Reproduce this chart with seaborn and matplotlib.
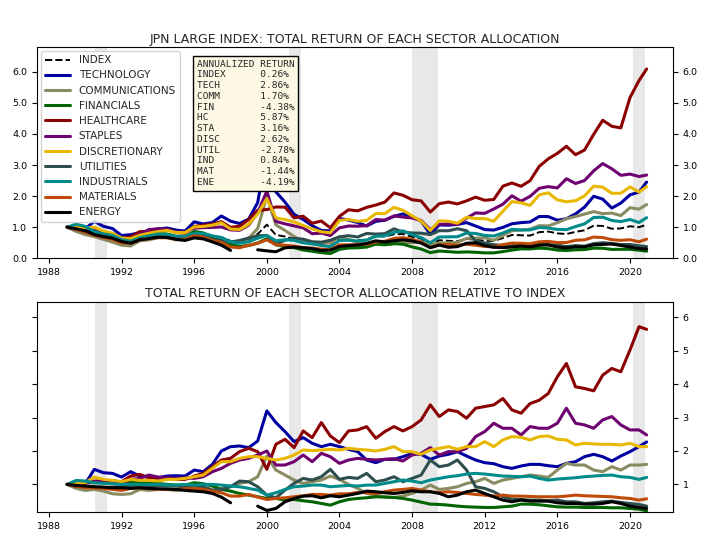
import numpy as np
import pandas as pd
import matplotlib
matplotlib.use("Agg")
import matplotlib.pyplot as plt
import matplotlib.dates as mdates
import seaborn as sns

sns.set_style("ticks")
plt.rcParams.update({'font.family': ['DejaVu Sans'], 'axes.edgecolor': 'black',
                     'xtick.color': 'black', 'ytick.color': 'black'})

# semi-annual samples
dates = list(pd.date_range("1989-01-01", "2020-07-01", freq="6MS")) + [pd.Timestamp("2020-12-01")]

# total return of the index (top panel, dashed)
index_tr = [1.00, 0.98, 0.93, 0.82, 0.76, 0.72, 0.60, 0.55, 0.66, 0.72,
            0.78, 0.78, 0.72, 0.70, 0.82, 0.80, 0.72, 0.68, 0.56, 0.52,
            0.60, 0.78, 1.08, 0.75, 0.70, 0.62, 0.52, 0.47, 0.42, 0.40,
            0.60, 0.60, 0.58, 0.60, 0.72, 0.70, 0.77, 0.78, 0.69, 0.63,
            0.44, 0.58, 0.56, 0.55, 0.62, 0.60, 0.56, 0.56, 0.65, 0.75,
            0.74, 0.73, 0.84, 0.86, 0.80, 0.78, 0.85, 0.90, 1.05, 1.04,
            0.95, 0.96, 1.03, 1.00, 1.08]

# sector returns relative to index (bottom panel)
tech_rel = [1.00, 0.97, 1.02, 1.45, 1.35, 1.33, 1.22, 1.38, 1.25, 1.22,
            1.20, 1.25, 1.26, 1.25, 1.43, 1.38, 1.60, 2.00, 2.13, 2.15,
            2.10, 2.30, 3.20, 2.85, 2.58, 2.28, 2.40, 2.23, 2.13, 2.20,
            2.13, 2.05, 1.98, 1.73, 1.65, 1.75, 1.75, 1.83, 1.93, 1.90,
            1.75, 1.85, 1.90, 1.98, 1.85, 1.73, 1.65, 1.62, 1.53, 1.48,
            1.55, 1.60, 1.60, 1.56, 1.53, 1.63, 1.68, 1.83, 1.90, 1.83,
            1.70, 1.85, 1.98, 2.13, 2.27]
comm_rel = [1.00, 0.88, 0.82, 0.85, 0.80, 0.72, 0.70, 0.72, 0.85, 0.82,
            0.85, 0.85, 0.82, 0.85, 0.85, 0.85, 0.82, 0.88, 0.95, 1.03,
            1.08, 1.23, 1.85, 1.43, 1.28, 1.13, 1.03, 1.08, 1.13, 1.25,
            1.15, 1.00, 0.88, 0.73, 0.68, 0.63, 0.61, 0.65, 0.73, 0.83,
            0.98, 0.85, 0.88, 0.93, 1.03, 1.08, 1.18, 1.03, 1.13, 1.18,
            1.23, 1.28, 1.25, 1.21, 1.43, 1.63, 1.58, 1.58, 1.43, 1.38,
            1.53, 1.43, 1.58, 1.58, 1.60]
fin_rel = [1.00, 1.02, 1.05, 1.05, 1.10, 1.10, 1.08, 1.08, 1.05, 1.05,
           1.03, 1.00, 0.98, 0.98, 1.05, 1.02, 0.95, 0.85, 0.80, 0.73,
           0.68, 0.63, 0.58, 0.58, 0.53, 0.55, 0.51, 0.48, 0.43, 0.38,
           0.48, 0.55, 0.58, 0.60, 0.63, 0.62, 0.61, 0.58, 0.53, 0.47,
           0.41, 0.40, 0.38, 0.35, 0.33, 0.32, 0.31, 0.31, 0.33, 0.35,
           0.41, 0.41, 0.39, 0.36, 0.33, 0.32, 0.32, 0.31, 0.31, 0.31,
           0.30, 0.30, 0.28, 0.26, 0.21]
hc_rel = [1.00, 0.95, 1.05, 1.10, 1.10, 1.10, 1.08, 1.25, 1.30, 1.20,
          1.18, 1.20, 1.15, 1.15, 1.25, 1.33, 1.53, 1.73, 1.78, 1.98,
          2.08, 1.98, 1.45, 2.20, 2.35, 2.10, 2.60, 2.40, 2.85, 2.45,
          2.25, 2.60, 2.63, 2.73, 2.38, 2.58, 2.73, 2.60, 2.73, 2.93,
          3.38, 3.03, 3.23, 3.18, 2.98, 3.28, 3.33, 3.38, 3.57, 3.23,
          3.13, 3.42, 3.52, 3.72, 4.22, 4.62, 3.92, 3.87, 3.80, 4.27,
          4.47, 4.37, 5.02, 5.72, 5.64]
sta_rel = [1.00, 1.00, 1.05, 1.08, 1.08, 1.10, 1.05, 1.15, 1.18, 1.28,
           1.22, 1.20, 1.18, 1.20, 1.18, 1.23, 1.38, 1.48, 1.63, 1.73,
           1.78, 1.88, 2.00, 1.58, 1.58, 1.68, 1.88, 1.68, 1.93, 1.83,
           1.63, 1.73, 1.78, 1.75, 1.73, 1.75, 1.77, 1.70, 1.88, 1.93,
           2.10, 1.88, 1.98, 1.98, 2.08, 2.43, 2.58, 2.83, 2.68, 2.68,
           2.48, 2.73, 2.68, 2.68, 2.83, 3.28, 2.83, 2.78, 2.68, 2.93,
           3.03, 2.78, 2.63, 2.63, 2.48]
disc_rel = [1.00, 1.02, 1.05, 1.22, 1.15, 1.12, 1.08, 1.15, 1.12, 1.12,
            1.10, 1.15, 1.15, 1.18, 1.23, 1.28, 1.48, 1.68, 1.68, 1.78,
            1.83, 1.83, 1.78, 1.73, 1.78, 1.88, 2.03, 2.01, 2.03, 2.05,
            2.03, 2.08, 2.05, 2.03, 2.00, 2.05, 2.13, 1.98, 1.98, 1.90,
            2.03, 2.08, 2.13, 2.05, 2.13, 2.13, 2.28, 2.13, 2.33, 2.43,
            2.41, 2.33, 2.43, 2.45, 2.35, 2.33, 2.18, 2.23, 2.21, 2.20,
            2.20, 2.18, 2.23, 2.13, 2.13]
util_rel = [1.00, 0.95, 0.92, 0.92, 0.90, 0.92, 0.93, 0.95, 0.97, 0.95,
            0.97, 0.95, 0.95, 0.92, 0.92, 0.93, 0.83, 0.85, 0.93, 1.10,
            1.08, 0.93, 0.68, 0.60, 0.83, 1.03, 1.18, 1.13, 1.23, 1.45,
            1.15, 1.21, 1.18, 1.33, 1.08, 1.13, 1.23, 1.08, 1.18, 1.28,
            1.73, 1.53, 1.58, 1.73, 1.43, 0.93, 0.88, 0.78, 0.63, 0.56,
            0.55, 0.53, 0.53, 0.51, 0.53, 0.48, 0.48, 0.43, 0.45, 0.48,
            0.50, 0.46, 0.43, 0.40, 0.35]
ind_rel = [1.00, 1.12, 1.10, 1.05, 1.03, 1.02, 1.00, 1.00, 1.00, 1.00,
           1.00, 0.98, 0.98, 1.00, 0.98, 1.00, 1.00, 0.98, 0.95, 0.93,
           0.88, 0.83, 0.68, 0.75, 0.85, 0.93, 0.95, 0.98, 0.98, 0.93,
           0.95, 0.97, 0.95, 0.98, 0.98, 1.03, 1.08, 1.13, 1.10, 1.05,
           1.13, 1.18, 1.23, 1.26, 1.31, 1.33, 1.31, 1.28, 1.25, 1.24,
           1.23, 1.25, 1.18, 1.13, 1.16, 1.18, 1.20, 1.23, 1.25, 1.27,
           1.28, 1.23, 1.21, 1.15, 1.21]
mat_rel = [1.00, 0.95, 0.90, 0.90, 0.88, 0.85, 0.82, 0.88, 0.90, 0.88,
           0.85, 0.85, 0.85, 0.87, 0.88, 0.85, 0.80, 0.75, 0.65, 0.65,
           0.70, 0.62, 0.55, 0.58, 0.60, 0.63, 0.66, 0.70, 0.70, 0.68,
           0.72, 0.72, 0.76, 0.75, 0.73, 0.78, 0.83, 0.85, 0.88, 0.83,
           0.78, 0.76, 0.78, 0.76, 0.73, 0.70, 0.68, 0.65, 0.68, 0.65,
           0.65, 0.64, 0.63, 0.63, 0.63, 0.65, 0.68, 0.66, 0.65, 0.64,
           0.63, 0.60, 0.58, 0.53, 0.57]
# energy has missing months around 1998-99
ene_rel = [1.00, 0.97, 0.95, 0.93, 0.92, 0.90, 0.90, 0.88, 0.90, 0.88,
           0.87, 0.86, 0.85, 0.82, 0.80, 0.78, 0.73, 0.62, 0.45, np.nan,
           np.nan, 0.35, 0.22, 0.28, 0.48, 0.58, 0.65, 0.66, 0.60, 0.66,
           0.63, 0.68, 0.73, 0.80, 0.78, 0.75, 0.73, 0.76, 0.81, 0.78,
           0.78, 0.73, 0.63, 0.68, 0.78, 0.83, 0.73, 0.63, 0.53, 0.48,
           0.53, 0.50, 0.50, 0.50, 0.45, 0.43, 0.43, 0.41, 0.41, 0.43,
           0.48, 0.43, 0.35, 0.31, 0.28]

sectors = ["TECHNOLOGY", "COMMUNICATIONS", "FINANCIALS", "HEALTHCARE", "STAPLES",
           "DISCRETIONARY", "UTILITIES", "INDUSTRIALS", "MATERIALS", "ENERGY"]
rel_series = [tech_rel, comm_rel, fin_rel, hc_rel, sta_rel,
              disc_rel, util_rel, ind_rel, mat_rel, ene_rel]
colors = ["#0000a0", "#8b8b62", "#006400", "#8b0000", "#6e0070",
          "#e8b800", "#2f4f4f", "#008b8b", "#c04a08", "black"]

ret_labels = ["INDEX", "TECH", "COMM", "FIN", "HC", "STA", "DISC", "UTIL", "IND", "MAT", "ENE"]
ann_returns = [0.26, 2.86, 1.70, -4.38, 5.87, 3.16, 2.62, -2.78, 0.84, -1.44, -4.19]

recessions = [("1990-07-15", "1991-03-15"), ("2001-03-20", "2001-11-15"),
              ("2007-12-25", "2009-06-10"), ("2020-02-25", "2020-11-01")]


def draw(ax, y, color, label=None, **kw):
    # seaborn drops NaNs, so draw each unbroken run on its own to keep gaps
    df = pd.DataFrame({"date": dates, "val": y})
    run = df["val"].isna().cumsum()
    first = True
    for _, seg in df[df["val"].notna()].groupby(run[df["val"].notna()]):
        sns.lineplot(data=seg, x="date", y="val", color=color, ax=ax,
                     label=label if first else None, legend=False, **kw)
        first = False


fig = plt.figure(figsize=(7.03, 5.46), dpi=100)
ax1 = fig.add_axes([0.0526, 0.527, 0.9047, 0.387])
ax2 = fig.add_axes([0.0526, 0.062, 0.9047, 0.385])

idx = np.array(index_tr)
draw(ax1, idx, "black", label="INDEX", linestyle="--", lw=1.4)
for name, rel, c in zip(sectors, rel_series, colors):
    rel = np.array(rel)
    draw(ax1, rel * idx, c, label=name, lw=2.2)
    draw(ax2, rel, c, lw=2.2)

for ax in (ax1, ax2):
    for s, e in recessions:
        ax.axvspan(pd.Timestamp(s), pd.Timestamp(e), color="lightgray", alpha=0.5, lw=0, zorder=0)
    ax.set_xlim(pd.Timestamp("1987-05-05"), pd.Timestamp("2022-05-15"))
    ax.xaxis.set_major_locator(mdates.YearLocator(4))
    ax.xaxis.set_major_formatter(mdates.DateFormatter("%Y"))
    ax.set_xlabel("")
    ax.set_ylabel("")
    ax.tick_params(labelsize=6.8, left=True, right=True, bottom=True)

ax1.set_ylim(0, 6.8)
ax1.set_yticks(np.arange(0, 6.5, 1.0))
ax1.yaxis.set_major_formatter(matplotlib.ticker.FormatStrFormatter("%.1f"))
ax1.tick_params(labelright=True)
ax1.set_title("JPN LARGE INDEX: TOTAL RETURN OF EACH SECTOR ALLOCATION", fontsize=9, pad=3)

ax2.set_ylim(0.17, 6.46)
ax2.set_yticks(range(1, 7))
ax2.tick_params(labelleft=False, labelright=True)
ax2.set_title("TOTAL RETURN OF EACH SECTOR ALLOCATION RELATIVE TO INDEX", fontsize=9, pad=3.5)

ax1.legend(loc="upper left", fontsize=7.5, handlelength=2.4, labelspacing=0.5,
           borderaxespad=0.4, framealpha=0.85)

box_text = "ANNUALIZED RETURN\n" + "\n".join(f"{n:<11}{v:.2f}%" for n, v in zip(ret_labels, ann_returns))
ax1.text(0.251, 0.94, box_text, transform=ax1.transAxes, family="DejaVu Sans Mono",
         fontsize=6.8, va="top", ha="left", zorder=5, linespacing=1.25,
         bbox=dict(boxstyle="square,pad=0.4", fc="#fdf8e3", ec="black", lw=1))

fig.savefig("out.png", dpi=100)
